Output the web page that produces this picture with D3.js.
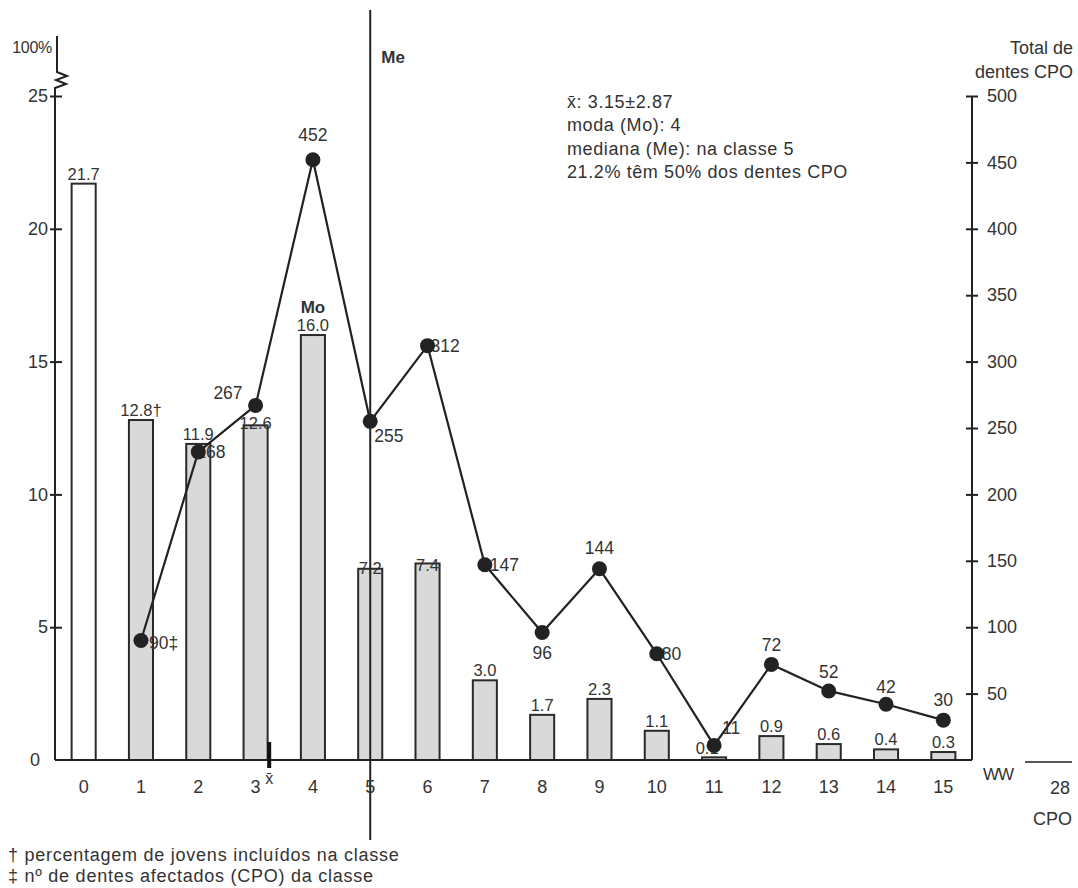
<!DOCTYPE html>
<html>
<head>
<meta charset="utf-8">
<script src="https://cdn.jsdelivr.net/npm/d3@7"></script>
<style>
  body { margin: 0; background: #fff; }
  text { font-family: "Liberation Sans", Arial, sans-serif; fill: #333; }
</style>
</head>
<body>
<svg id="chart" width="1078" height="888"></svg>
<script>
// classes of CPO (0..15) and % of youths in each class
const classes = d3.range(16);
const pctYouths = [21.7, 12.8, 11.9, 12.6, 16.0, 7.2, 7.4, 3.0, 1.7, 2.3, 1.1, 0.1, 0.9, 0.6, 0.4, 0.3];
const pctLabels = ["21.7", "12.8†", "11.9", "12.6", "16.0", "7.2", "7.4", "3.0", "1.7", "2.3", "1.1", "0.1", "0.9", "0.6", "0.4", "0.3"];

// total CPO teeth per class (as plotted, and as labelled)
const teethClasses = d3.range(1, 16);
const teethPlotted = [90, 232, 267, 452, 255, 312, 147, 96, 144, 80, 11, 72, 52, 42, 30];
const teethLabels = ["90‡", "168", "267", "452", "255", "312", "147", "96", "144", "80", "11", "72", "52", "42", "30"];

const leftTicks = [0, 5, 10, 15, 20, 25];
const rightTicks = [50, 100, 150, 200, 250, 300, 350, 400, 450, 500];

const statsLines = ["x\u0304: 3.15±2.87", "moda (Mo): 4", "mediana (Me): na classe 5", "21.2% têm 50% dos dentes CPO"];
const meanValue = 3.15;
const modeClass = 4;
const medianClass = 5;

const svg = d3.select("#chart");

const x = d3.scaleBand()
    .domain(classes)
    .range([55, 972])
    .paddingInner(0.58)
    .paddingOuter(0.29);
const cx = d => x(d) + x.bandwidth() / 2;

const yLeft = d3.scaleLinear().domain([0, 25]).range([760, 96]);
const yRight = d3.scaleLinear().domain([0, 500]).range([760, 96]);

// label offsets (layout only): [dx, dy, anchor]
const barLabelPos = {3: [0, 4], 5: [0, 5], 6: [0, 8], 11: [-7, -3]};
const pointLabelPos = [
    [8, 9, "start"], [-2, 6, "start"], [-13, -6, "end"], [0, -19, "middle"],
    [4, 21, "start"], [3, 6, "start"], [5, 6, "start"], [0, 26, "middle"],
    [0, -15, "middle"], [5, 6, "start"], [8, -11, "start"], [0, -13, "middle"],
    [0, -13, "middle"], [0, -11, "middle"], [0, -14, "middle"]
];

// bars
svg.append("g").selectAll("rect")
    .data(classes)
    .join("rect")
    .attr("x", d => x(d))
    .attr("y", d => yLeft(pctYouths[d]))
    .attr("width", x.bandwidth())
    .attr("height", d => yLeft(0) - yLeft(pctYouths[d]))
    .attr("fill", d => d === 0 ? "#fff" : "#d9d9d9")
    .attr("stroke", "#2a2a2a")
    .attr("stroke-width", 2);

svg.append("g").selectAll("text")
    .data(classes)
    .join("text")
    .attr("x", d => cx(d) + (barLabelPos[d] ? barLabelPos[d][0] : 0))
    .attr("y", d => yLeft(pctYouths[d]) + (barLabelPos[d] ? barLabelPos[d][1] : -4))
    .attr("text-anchor", "middle")
    .attr("font-size", 16.5)
    .text(d => pctLabels[d]);

// median line
svg.append("line")
    .attr("x1", cx(medianClass)).attr("x2", cx(medianClass))
    .attr("y1", 10).attr("y2", 840)
    .attr("stroke", "#222").attr("stroke-width", 2);
svg.append("text")
    .attr("x", cx(medianClass) + 11).attr("y", 63)
    .attr("font-size", 17).attr("font-weight", "bold")
    .text("Me");

svg.append("text")
    .attr("x", cx(modeClass)).attr("y", yLeft(pctYouths[modeClass]) - 22)
    .attr("text-anchor", "middle")
    .attr("font-size", 17).attr("font-weight", "bold")
    .text("Mo");

// teeth line
const line = d3.line()
    .x((d, i) => cx(teethClasses[i]))
    .y(d => yRight(d));

svg.append("path")
    .datum(teethPlotted)
    .attr("d", line)
    .attr("fill", "none")
    .attr("stroke", "#222")
    .attr("stroke-width", 2.2);

svg.append("g").selectAll("text")
    .data(teethPlotted)
    .join("text")
    .attr("x", (d, i) => cx(teethClasses[i]) + pointLabelPos[i][0])
    .attr("y", (d, i) => yRight(d) + pointLabelPos[i][1])
    .attr("text-anchor", (d, i) => pointLabelPos[i][2])
    .attr("font-size", 17.5)
    .text((d, i) => teethLabels[i]);

svg.append("g").selectAll("circle")
    .data(teethPlotted)
    .join("circle")
    .attr("cx", (d, i) => cx(teethClasses[i]))
    .attr("cy", d => yRight(d))
    .attr("r", 7.5)
    .attr("fill", "#222");

// left axis
const leftAxis = svg.append("g")
    .attr("transform", "translate(55,0)")
    .call(d3.axisLeft(yLeft).tickValues(leftTicks).tickSize(6).tickPadding(1));
leftAxis.select(".domain").remove();
leftAxis.selectAll(".tick line").attr("x1", -5).attr("x2", 7).attr("stroke", "#222").attr("stroke-width", 2);
leftAxis.selectAll(".tick text").attr("font-size", 18).attr("fill", "#333");
leftAxis.selectAll(".tick").filter(d => d === 0).select("line").remove();
leftAxis.selectAll(".tick").filter(d => d === 0).select("text").attr("x", -15);

svg.append("path")
    .attr("d", "M57,36 V72 L67,76 L56,80 L66,84 L55,88 V760")
    .attr("fill", "none").attr("stroke", "#222").attr("stroke-width", 2);
svg.append("text")
    .attr("x", 52).attr("y", 53).attr("text-anchor", "end")
    .attr("font-size", 16).attr("letter-spacing", -0.3)
    .text("100%");

// right axis
const rightAxis = svg.append("g")
    .attr("transform", "translate(972,0)")
    .call(d3.axisRight(yRight).tickValues(rightTicks).tickSize(6).tickPadding(9));
rightAxis.select(".domain").attr("d", `M0,${yRight(500)}V${yRight(0)}`).attr("stroke", "#222").attr("stroke-width", 2);
rightAxis.selectAll(".tick line").attr("x1", -6).attr("x2", 6).attr("stroke", "#222").attr("stroke-width", 2);
rightAxis.selectAll(".tick text").attr("font-size", 18).attr("fill", "#333");

svg.append("text").attr("x", 1073).attr("y", 54).attr("text-anchor", "end").attr("font-size", 18).text("Total de");
svg.append("text").attr("x", 1073).attr("y", 78).attr("text-anchor", "end").attr("font-size", 18).text("dentes CPO");

// x axis
const xAxis = svg.append("g")
    .attr("transform", "translate(0,760)")
    .call(d3.axisBottom(x).tickSize(0).tickPadding(20));
xAxis.select(".domain").attr("d", "M55,0H972").attr("stroke", "#222").attr("stroke-width", 2);
xAxis.selectAll(".tick text").attr("font-size", 18).attr("fill", "#333");

svg.append("text").attr("x", 983).attr("y", 780).attr("font-size", 17).attr("letter-spacing", -1).text("WW");
svg.append("line").attr("x1", 1025).attr("x2", 1072).attr("y1", 762).attr("y2", 762).attr("stroke", "#222").attr("stroke-width", 1.5);
svg.append("text").attr("x", 1070).attr("y", 794).attr("text-anchor", "end").attr("font-size", 18).text("28");
svg.append("text").attr("x", 1072).attr("y", 825).attr("text-anchor", "end").attr("font-size", 18).text("CPO");

// mean marker
const meanX = cx(3) + (meanValue - 3) * x.step() + 5;
svg.append("rect")
    .attr("x", meanX - 2).attr("y", 742).attr("width", 4).attr("height", 26)
    .attr("fill", "#111");
svg.append("text")
    .attr("x", meanX).attr("y", 784).attr("text-anchor", "middle")
    .attr("font-size", 16).text("x\u0304");

// stats box
svg.append("g").selectAll("text")
    .data(statsLines)
    .join("text")
    .attr("x", 567)
    .attr("y", (d, i) => 108 + i * 23.3)
    .attr("font-size", 18)
    .attr("letter-spacing", 0.6)
    .text(d => d);

// footnotes
svg.append("text").attr("x", 8).attr("y", 861).attr("font-size", 18).attr("letter-spacing", 0.75).text("† percentagem de jovens incluídos na classe");
svg.append("text").attr("x", 8).attr("y", 882).attr("font-size", 18).attr("letter-spacing", 0.75).text("‡ nº de dentes afectados (CPO) da classe");
</script>
</body>
</html>
